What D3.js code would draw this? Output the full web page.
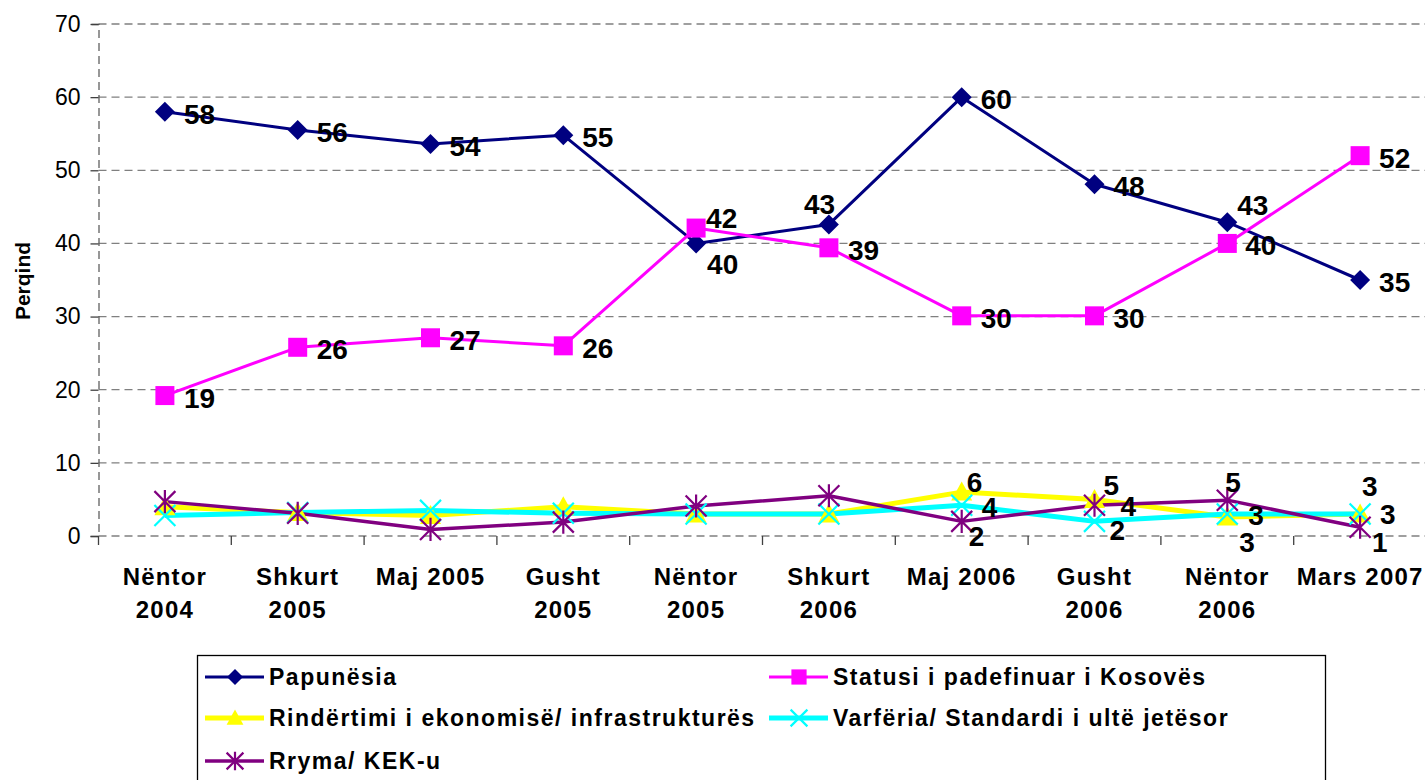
<!DOCTYPE html>
<html lang="sq">
<head>
<meta charset="UTF-8">
<title>Perqind</title>
<script src="https://d3js.org/d3.v7.min.js"></script>
<style>
    body { margin: 0; background: #fff; }
    svg text { font-family: "Liberation Sans", Arial, sans-serif; fill: #000; }
</style>
</head>
<body>
<svg width="1425" height="780"></svg>
<script>
// categories (two lines each)
const categories = [
    ["Nëntor", "2004"], ["Shkurt", "2005"], ["Maj 2005"], ["Gusht", "2005"], ["Nëntor", "2005"],
    ["Shkurt", "2006"], ["Maj 2006"], ["Gusht", "2006"], ["Nëntor", "2006"], ["Mars 2007"]
];
const yTicks = [0, 10, 20, 30, 40, 50, 60, 70];

const papunesia  = [58, 55.5, 53.6, 54.8, 40, 42.6, 60, 48.1, 42.9, 35];
const statusi    = [19.2, 25.8, 27.1, 26, 42.1, 39.4, 30.1, 30.1, 40, 52];
const rindertimi = [4, 3.2, 2.8, 4, 3, 3, 6, 5, 2.6, 3];
const varferia   = [2.8, 3.2, 3.5, 3.1, 3, 3, 4.2, 2, 3, 3];
const rryma      = [4.7, 3.1, 0.9, 1.9, 4.1, 5.5, 2, 4.2, 4.9, 1.2];

const series = [
    { name: "Papunësia", values: papunesia, color: "#000080", shape: "diamond", width: 3, labelFrom: 0 },
    { name: "Statusi i padefinuar i Kosovës", values: statusi, color: "#ff00ff", shape: "square", width: 3, labelFrom: 0 },
    { name: "Rindërtimi i ekonomisë/ infrastrukturës", values: rindertimi, color: "#ffff00", shape: "triangle", width: 5, labelFrom: 6 },
    { name: "Varfëria/ Standardi i ultë jetësor", values: varferia, color: "#00ffff", shape: "x", width: 5, labelFrom: 6 },
    { name: "Rryma/ KEK-u", values: rryma, color: "#800080", shape: "star", width: 3.5, labelFrom: 6 }
];

// label placement: [dx of left edge, dy of centre] relative to the point
const defaultOffset = [19, 2];
const labelOffsets = [
    { 4: [11, 21], 5: [-25, -20], 8: [10, -17] },
    { 4: [10, -10], 8: [18, 2] },
    { 6: [5, -10], 7: [9, -14], 8: [12, 25], 9: [2, -28] },
    { 6: [20, 2], 7: [15, 9], 8: [21, 1], 9: [20, 0] },
    { 6: [7, 15], 7: [26, 1], 8: [-2, -18], 9: [12, 15] }
];

const svg = d3.select("svg");
const plotLeft = 98.5, plotRight = 1426.5, plotTop = 24, plotBottom = 536;

const x = d3.scaleBand().domain(d3.range(categories.length)).range([plotLeft, plotRight]);
const y = d3.scaleLinear().domain([0, 70]).range([plotBottom, plotTop]);
const cx = i => x(i) + x.bandwidth() / 2;

// gridlines
svg.append("g").selectAll("line")
    .data(yTicks)
    .join("line")
    .attr("x1", plotLeft).attr("x2", plotRight)
    .attr("y1", d => y(d)).attr("y2", d => y(d))
    .attr("stroke", "#808080").attr("stroke-width", 1.3)
    .attr("stroke-dasharray", "8,5");

// y axis
const yAxis = svg.append("g")
    .attr("transform", `translate(${plotLeft},0)`)
    .call(d3.axisLeft(y).tickValues(yTicks).tickSize(8).tickPadding(10));
yAxis.select(".domain").attr("stroke", "#606060").attr("stroke-width", 1.3).attr("stroke-dasharray", "8,5");
yAxis.selectAll(".tick line").attr("stroke", "#404040").attr("stroke-width", 1.3);
yAxis.selectAll(".tick text")
    .style("font-family", '"Liberation Sans", Arial, sans-serif')
    .attr("font-size", 23).attr("fill", "#000");

// x tick marks at category boundaries
svg.append("g").selectAll("line")
    .data(d3.range(categories.length + 1))
    .join("line")
    .attr("x1", i => plotLeft + i * x.bandwidth()).attr("x2", i => plotLeft + i * x.bandwidth())
    .attr("y1", plotBottom).attr("y2", plotBottom + 9)
    .attr("stroke", "#404040").attr("stroke-width", 1.3);

// category labels
const catText = svg.append("g").selectAll("text")
    .data(categories)
    .join("text")
    .attr("text-anchor", "middle")
    .attr("font-size", 24).attr("font-weight", "bold")
    .attr("letter-spacing", 1.2);
catText.selectAll("tspan")
    .data((d, i) => d.map(t => ({ t, i })))
    .join("tspan")
    .attr("x", d => cx(d.i))
    .attr("y", (d, j) => 585 + j * 33)
    .text(d => d.t);

// y title
svg.append("text")
    .attr("transform", "translate(30,281) rotate(-90)")
    .attr("text-anchor", "middle")
    .attr("font-size", 21).attr("font-weight", "bold")
    .text("Perqind");

// marker shapes
function marker(sel, shape, color, s) {
    if (shape === "diamond") {
        sel.append("path").attr("d", `M0,${-s}L${s},0L0,${s}L${-s},0Z`).attr("fill", color);
    } else if (shape === "square") {
        sel.append("rect").attr("x", -s * 0.95).attr("y", -s * 0.95)
            .attr("width", s * 1.9).attr("height", s * 1.9).attr("fill", color);
    } else if (shape === "triangle") {
        sel.append("path").attr("d", `M0,${-s * 1.05}L${s * 1.05},${s * 0.85}L${-s * 1.05},${s * 0.85}Z`).attr("fill", color);
    } else {
        const r = s * 1.05;
        let d = `M${-r},${-r}L${r},${r}M${-r},${r}L${r},${-r}`;
        if (shape === "star") d += `M0,${-r * 1.1}L0,${r * 1.1}`;
        sel.append("path").attr("d", d).attr("stroke", color).attr("stroke-width", 2.2).attr("fill", "none");
    }
}

const line = d3.line().x((d, i) => cx(i)).y(d => y(d));

series.forEach(s => {
    svg.append("path")
        .datum(s.values)
        .attr("d", line)
        .attr("fill", "none")
        .attr("stroke", s.color)
        .attr("stroke-width", s.width)
        .attr("stroke-linejoin", "round");
});
series.forEach(s => {
    svg.append("g").selectAll("g")
        .data(s.values)
        .join("g")
        .attr("transform", (d, i) => `translate(${cx(i)},${y(d)})`)
        .each(function () { marker(d3.select(this), s.shape, s.color, 10); });
});

// data labels
series.forEach((s, k) => {
    svg.append("g").selectAll("text")
        .data(s.values.map((v, i) => ({ v, i })).filter(d => d.i >= s.labelFrom))
        .join("text")
        .attr("x", d => cx(d.i) + (labelOffsets[k][d.i] || defaultOffset)[0])
        .attr("y", d => y(d.v) + (labelOffsets[k][d.i] || defaultOffset)[1] + 10)
        .attr("font-size", 28).attr("font-weight", "bold")
        .text(d => Math.round(d.v));
});

// legend
const legend = svg.append("g");
legend.append("rect")
    .attr("x", 197.5).attr("y", 655.5).attr("width", 1128).attr("height", 140)
    .attr("fill", "#fff").attr("stroke", "#000").attr("stroke-width", 1.3);
const legPos = [[205, 677], [769, 677], [205, 718], [769, 718], [205, 761]];
series.forEach((s, k) => {
    const [lx, ly] = legPos[k];
    const g = legend.append("g").attr("transform", `translate(${lx},${ly})`);
    g.append("line").attr("x1", 0).attr("x2", 59).attr("stroke", s.color).attr("stroke-width", s.width);
    const m = g.append("g").attr("transform", "translate(30,0)");
    marker(m, s.shape, s.color, 8);
    g.append("text")
        .attr("x", 64).attr("y", 8)
        .attr("font-size", 23).attr("font-weight", "bold")
        .attr("letter-spacing", 1.5)
        .text(s.name);
});
</script>
</body>
</html>
